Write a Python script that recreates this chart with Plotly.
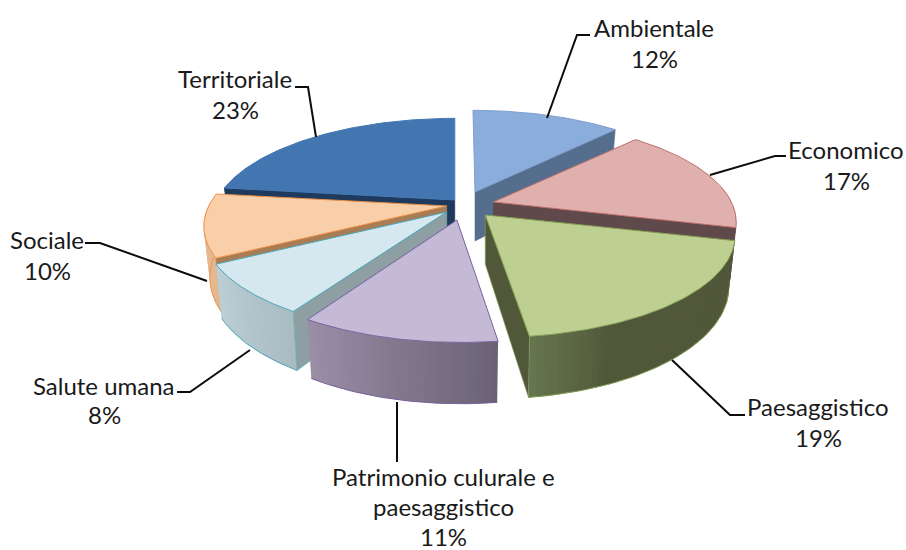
import math
import plotly.graph_objects as go

# ---- data ----
categories = ["Ambientale", "Economico", "Paesaggistico", "Patrimonio culurale e paesaggistico",
              "Salute umana", "Sociale", "Territoriale"]
values = [12, 17, 19, 11, 8, 10, 23]

# ---- label wrapping ----
label_lines = [["Ambientale"], ["Economico"], ["Paesaggistico"],
               ["Patrimonio culurale e", "paesaggistico"], ["Salute umana"], ["Sociale"], ["Territoriale"]]

# ---- styles ----
top_colors = ["#8aaddb", "#e0b0af", "#bdd092", "#c4bad6", "#d5e8ef", "#f8cfa8", "#4376b1"]
edge_colors = ["#7f9fce", "#c0706e", "#84a052", "#7a63a0", "#4ba6b8", "#ee9148", "#4376b1"]
face_colors = ["#566e8e", "#60494a", "#515739", "#6a6274", "#8e9fa3", "#a87c55", "#1f3a5c"]
D, L = "#515739", "#667650"
wall_stops = [
    ["#566e8e", "#566e8e"], ["#a05c5a", "#a05c5a"], [D, D, D, D, L],
    ["#6a6274", "#9b8fa8"], ["#a9bcc2", "#bccfd6"], ["#e5b88f", "#e5b88f"], ["#1f3a5c", "#1f3a5c"],
]
# exploded offset of each slice, in pie radii (right, front)
pull = [(.021, -.133), (.098, -.031), (.064, .102), (-.055, .153), (-.098, .071), (-.098, .01), (-.064, -.051)]
# sideways skew of each slice's rim relative to its tip, in pixels
rim_skew = [-2, 0, 7, 4, 0, 0, 0]
draw_order = [6, 0, 1, 5, 4, 2, 3]

CX, CY, RX, RY, PERSP, DEPTH, TAPER = 470, 205, 238, 98, .2, 49, .025

# label anchor rows and leader lines (layout furniture)
label_pos = [(654, 27, 31), (846, 149, 31), (818, 406, 31), (443, 476, 30), (104, 385, 29), (47, 239, 31), (235, 78, 31)]
leaders = [
    [(547, 118), (577, 35), (590, 35)], [(710, 175), (775, 156), (786, 156)],
    [(672, 360), (730, 415), (745, 415)], [(397, 402), (397, 462)],
    [(250, 350), (190, 392), (177, 392)], [(207, 281), (100, 243), (85, 243)],
    [(316, 137), (308, 87), (295, 87)],
]


def hex_rgb(h):
    return tuple(int(h[i:i + 2], 16) for i in (1, 3, 5))


def mix(stops, t):
    t = max(0, min(1, t)) * (len(stops) - 1)
    i = min(int(t), len(stops) - 2)
    a, b = hex_rgb(stops[i]), hex_rgb(stops[i + 1])
    f = t - i
    return "rgb(%d,%d,%d)" % tuple(round(a[k] + (b[k] - a[k]) * f) for k in range(3))


fig = go.Figure()


def poly(pts, fill, line=None, width=0.6):
    fig.add_trace(go.Scatter(
        x=[p[0] for p in pts] + [pts[0][0]], y=[p[1] for p in pts] + [pts[0][1]],
        mode="lines", fill="toself", fillcolor=fill,
        line=dict(color=line or fill, width=width), hoverinfo="skip", showlegend=False))


total = sum(values)
starts = [sum(values[:i]) / total * 2 * math.pi for i in range(len(values))]
for idx in draw_order:
    a0 = starts[idx]
    a1 = a0 + values[idx] / total * 2 * math.pi
    ox, oy = pull[idx]
    ax0, ay0 = CX + RX * ox, CY + RY * oy
    skew = rim_skew[idx]

    def rim(a, z=0.0):
        X, Y = math.sin(a), -math.cos(a)
        s = 1 / (1 - PERSP * Y)
        return ax0 + skew + RX * X * s * (1 - TAPER * z), ay0 + (RY * Y + DEPTH * z) * s

    def apex(z=0.0):
        return ax0, ay0 + DEPTH * z

    # outer wall, shaded in overlapping strips
    n = max(12, int((a1 - a0) * 40))
    for k in range(n):
        b0 = a0 + (a1 - a0) * k / n
        b1 = a0 + (a1 - a0) * (k + 1) / n
        if math.cos((b0 + b1) / 2) < 0.15:
            arc = [b0 + (min(a1, b1 + .02) - b0) * j / 4 for j in range(5)]
            poly([rim(b) for b in arc] + [rim(b, 1) for b in reversed(arc)],
                 mix(wall_stops[idx], (k + .5) / n), None, 0)
    # wall outline
    front = [a0 + (a1 - a0) * k / 60 for k in range(61)]
    front = [a for a in front if math.cos(a) < 0.15]
    if front:
        pts = [rim(a, 1) for a in front]
        fig.add_trace(go.Scatter(x=[p[0] for p in pts], y=[p[1] for p in pts], mode="lines",
                                 line=dict(color=edge_colors[idx], width=1), hoverinfo="skip", showlegend=False))

    # cut faces that look toward the viewer
    if math.sin(a0) < 0:
        poly([apex(), rim(a0), rim(a0, 1), apex(1)], face_colors[idx], edge_colors[idx] if idx == 4 else None)
    if math.sin(a1) > 0:
        poly([apex(), rim(a1), rim(a1, 1), apex(1)], face_colors[idx], edge_colors[idx] if idx == 2 else None)

    # top
    arc = [a0 + (a1 - a0) * k / 80 for k in range(81)]
    poly([apex()] + [rim(a) for a in arc], top_colors[idx], edge_colors[idx], 1)

# leaders
for pts in leaders:
    fig.add_trace(go.Scatter(x=[p[0] for p in pts], y=[p[1] for p in pts], mode="lines",
                             line=dict(color="#0c0c0c", width=2), hoverinfo="skip", showlegend=False))

# labels
for lines, value, (x, y, dy) in zip(label_lines, values, label_pos):
    for i, t in enumerate(lines + [f"{value}%"]):
        fig.add_annotation(x=x, y=y + i * dy, text=t, showarrow=False, xanchor="center", yanchor="middle",
                           font=dict(family="Lato, Open Sans, sans-serif", size=24, color="#1a1a1a"))

fig.update_layout(
    width=906, height=550, margin=dict(l=0, r=0, t=0, b=0), paper_bgcolor="white", plot_bgcolor="white",
    showlegend=False,
    xaxis=dict(range=[0, 906], visible=False, fixedrange=True),
    yaxis=dict(range=[550, 0], visible=False, fixedrange=True),
)
fig.write_html("out.html", config={"displayModeBar": False},
               post_script="document.body.style.margin='0';document.body.style.overflow='hidden';")
